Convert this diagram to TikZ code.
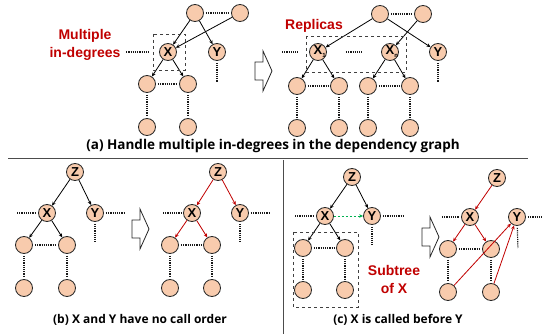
\documentclass[tikz,border=0pt]{standalone}
\usepackage{fontspec}
\setmainfont{Open Sans}
\newfontfamily\arialfont{Liberation Sans}
\usetikzlibrary{arrows.meta}

\definecolor{peach}{HTML}{F8CBAD}
\definecolor{darkred}{HTML}{C00000}
\definecolor{brightgreen}{HTML}{00B050}

\tikzset{
  bigarrow/.pic={
    \draw[draw=black!85, fill=white, line width=0.8pt]
      (0,-9) -- (8,-9) -- (8,-20) -- (17,0) -- (8,20) -- (8,9) -- (0,9) -- cycle;
  }
}

\begin{document}
\begin{tikzpicture}[x=1pt, y=-1pt, >={Stealth[length=4pt,width=3.5pt]}, line width=0.8pt,
  vtx/.style={circle, draw=black!85, fill=peach, minimum size=17pt, inner sep=0pt,
    font=\arialfont\bfseries\fontsize{13}{13}\selectfont},
  edge/.style={->, black},
  redge/.style={->, darkred},
  dots/.style={densely dotted, line width=1.2pt, black!90, shorten <=2pt, shorten >=2pt},
  box/.style={dashed, line width=0.9pt, black!75},
  note/.style={text=darkred, font=\arialfont\bfseries\fontsize{14}{18}\selectfont, align=center},
  caption/.style={font=\bfseries\fontsize{12}{14}\selectfont}]
  \useasboundingbox (0,0) rectangle (547,334);

  % (a) izquierda: X con varios padres
  \node[vtx] (aT1) at (195,13) {};
  \node[vtx] (aT2) at (240,13) {};
  \node[vtx] (aX) at (168,52) {X};
  \node[vtx] (aY) at (217,52) {Y};
  \node[vtx] (aC1) at (147,84) {};
  \node[vtx] (aC2) at (188,84) {};
  \node[vtx] (aB1) at (147,127) {};
  \node[vtx] (aB2) at (188,127) {};
  \draw[dots] (aT1) -- (aT2);
  \draw[edge] (aT1) -- (aX);
  \draw[edge] (aT2) -- (aX);
  \draw[edge] (aT1) -- (aY);
  \draw[edge] (aX) -- (aC1);
  \draw[edge] (aX) -- (aC2);
  \draw[dots] (aC1) -- (aC2);
  \draw[dots] (aC1) -- (aB1);
  \draw[dots] (aC2) -- (aB2);
  \coordinate (aYend) at (217,84);
  \draw[dots] (aY) -- (aYend);
  \draw[box] (153,34) rectangle (185,70);
  \node[note] (multi) at (85,45) {Multiple\\in-degrees};
  \coordinate (aXin) at (152,52);
  \draw[dots] (multi.east) ++(0,7) coordinate (aXfrom) -- (aXin);

  \pic at (255,71) {bigarrow};

  % (a) derecha: réplicas X_1 ... X_n
  \node[vtx] (rT1) at (380,14) {};
  \node[vtx] (rT2) at (423,14) {};
  \node[vtx] (rX1) at (318,52) {X\rlap{\raisebox{-3pt}{\fontsize{6}{6}\selectfont 1}}};
  \node[vtx] (rXn) at (390,52) {X\rlap{\raisebox{-3pt}{\fontsize{6}{6}\selectfont n}}};
  \node[vtx] (rY) at (438,52) {Y};
  \node[vtx] (rC1) at (297,86) {};
  \node[vtx] (rC2) at (339,86) {};
  \node[vtx] (rC3) at (368,86) {};
  \node[vtx] (rC4) at (410,86) {};
  \node[vtx] (rB1) at (297,128) {};
  \node[vtx] (rB2) at (339,128) {};
  \node[vtx] (rB3) at (368,128) {};
  \node[vtx] (rB4) at (410,128) {};
  \draw[dots] (rT1) -- (rT2);
  \draw[edge] (rT1) -- (rX1);
  \draw[edge] (rT1) -- (rY);
  \draw[edge] (rT2) -- (rXn);
  \draw[edge] (rX1) -- (rC1);
  \draw[edge] (rX1) -- (rC2);
  \draw[edge] (rXn) -- (rC3);
  \draw[edge] (rXn) -- (rC4);
  \draw[dots, shorten <=19pt, shorten >=19pt] (rX1) -- (rXn);
  \draw[dots] (rC1) -- (rC2);
  \draw[dots] (rC3) -- (rC4);
  \draw[dots] (rC1) -- (rB1);
  \draw[dots] (rC2) -- (rB2);
  \draw[dots] (rC3) -- (rB3);
  \draw[dots] (rC4) -- (rB4);
  \coordinate (rYend) at (438,84);
  \draw[dots] (rY) -- (rYend);
  \coordinate (rXa) at (280,52);
  \coordinate (rXb) at (300,52);
  \draw[dots] (rXa) -- (rXb);
  \draw[box] (306,36) rectangle (406,72);
  \node[note] (replicas) at (314,26) {Replicas};

  \node[caption, font=\bfseries\fontsize{13.5}{16}\selectfont] (capA) at (273,146)
    {(a) Handle multiple in-degrees in the dependency graph};

  % separadores
  \draw[line width=1pt, black!70] (8,159) -- (528,159);
  \draw[line width=1pt, black!70] (283,160) -- (283,334);

  % (b) izquierda
  \node[vtx] (bZ) at (75,172) {Z};
  \node[vtx] (bX) at (47,213) {X};
  \node[vtx] (bY) at (95,213) {Y};
  \node[vtx] (bC1) at (24,245) {};
  \node[vtx] (bC2) at (67,245) {};
  \node[vtx] (bB1) at (24,288) {};
  \node[vtx] (bB2) at (67,288) {};
  \draw[edge] (bZ) -- (bX);
  \draw[edge] (bZ) -- (bY);
  \draw[edge] (bX) -- (bC1);
  \draw[edge] (bX) -- (bC2);
  \draw[dots] (bC1) -- (bC2);
  \draw[dots] (bC1) -- (bB1);
  \draw[dots] (bC2) -- (bB2);
  \coordinate (bXl) at (15,213);
  \draw[dots] (bXl) -- (bX);
  \coordinate (bYr) at (127,213);
  \draw[dots] (bY) -- (bYr);
  \coordinate (bYd) at (95,244);
  \draw[dots] (bY) -- (bYd);

  \pic at (132,229) {bigarrow};

  % (b) derecha: aristas en rojo
  \node[vtx] (bZ') at (218,172) {Z};
  \node[vtx] (bX') at (192,213) {X};
  \node[vtx] (bY') at (240,213) {Y};
  \node[vtx] (bC1') at (170,245) {};
  \node[vtx] (bC2') at (212,245) {};
  \node[vtx] (bB1') at (170,288) {};
  \node[vtx] (bB2') at (212,288) {};
  \draw[redge] (bZ') -- (bX');
  \draw[redge] (bZ') -- (bY');
  \draw[redge] (bX') -- (bC1');
  \draw[redge] (bX') -- (bC2');
  \draw[dots] (bC1') -- (bC2');
  \draw[dots] (bC1') -- (bB1');
  \draw[dots] (bC2') -- (bB2');
  \coordinate (bXl') at (161,213);
  \draw[dots] (bXl') -- (bX');
  \coordinate (bYr') at (272,213);
  \draw[dots] (bY') -- (bYr');
  \coordinate (bYd') at (240,244);
  \draw[dots] (bY') -- (bYd');

  \node[caption] (capB) at (140,320) {(b) X and Y have no call order};

  % (c) izquierda
  \node[vtx] (cZ) at (352,177) {Z};
  \node[vtx] (cX) at (325,216) {X};
  \node[vtx] (cY) at (372,216) {Y};
  \node[vtx] (cC1) at (303,248) {};
  \node[vtx] (cC2) at (345,248) {};
  \node[vtx] (cB1) at (303,290) {};
  \node[vtx] (cB2) at (345,290) {};
  \draw[edge] (cZ) -- (cX);
  \draw[edge] (cZ) -- (cY);
  \draw[->, brightgreen, dash pattern=on 2.5pt off 1.5pt] (cX) -- (cY);
  \draw[edge] (cX) -- (cC1);
  \draw[edge] (cX) -- (cC2);
  \draw[dots] (cC1) -- (cC2);
  \draw[dots] (cC1) -- (cB1);
  \draw[dots] (cC2) -- (cB2);
  \coordinate (cXl) at (293,216);
  \draw[dots] (cXl) -- (cX);
  \coordinate (cYr) at (405,216);
  \draw[dots] (cY) -- (cYr);
  \coordinate (cYd) at (372,247);
  \draw[dots] (cY) -- (cYd);
  \draw[box] (293,232) rectangle (358,307);
  \node[note] (subtree) at (394,279) {Subtree\\of X};

  \pic at (422,237) {bigarrow};

  % (c) derecha: Y va despues del subarbol de X
  \node[vtx] (cZ') at (497,178) {Z};
  \node[vtx] (cX') at (470,217) {X};
  \node[vtx] (cY') at (517,217) {Y};
  \node[vtx] (cC1') at (448,249) {};
  \node[vtx] (cC2') at (491,249) {};
  \node[vtx] (cB1') at (448,292) {};
  \node[vtx] (cB2') at (491,292) {};
  \draw[redge] (cZ') -- (cX');
  \draw[redge] (cX') -- (cC1');
  \draw[redge] (cX') -- (cC2');
  \draw[redge] (cB1') -- (cY');
  \draw[redge] (cB2') -- (cY');
  \draw[dots] (cC1') -- (cC2');
  \draw[dots] (cC1') -- (cB1');
  \draw[dots] (cC2') -- (cB2');
  \coordinate (cXl') at (440,217);
  \draw[dots] (cXl') -- (cX');
  \coordinate (cYr') at (544,217);
  \draw[dots] (cY') -- (cYr');
  \coordinate (cYd') at (518,250);
  \draw[dots] (cY') -- (cYd');

  \node[caption] (capC) at (398,320) {(c) X is called before Y};
\end{tikzpicture}
\end{document}
